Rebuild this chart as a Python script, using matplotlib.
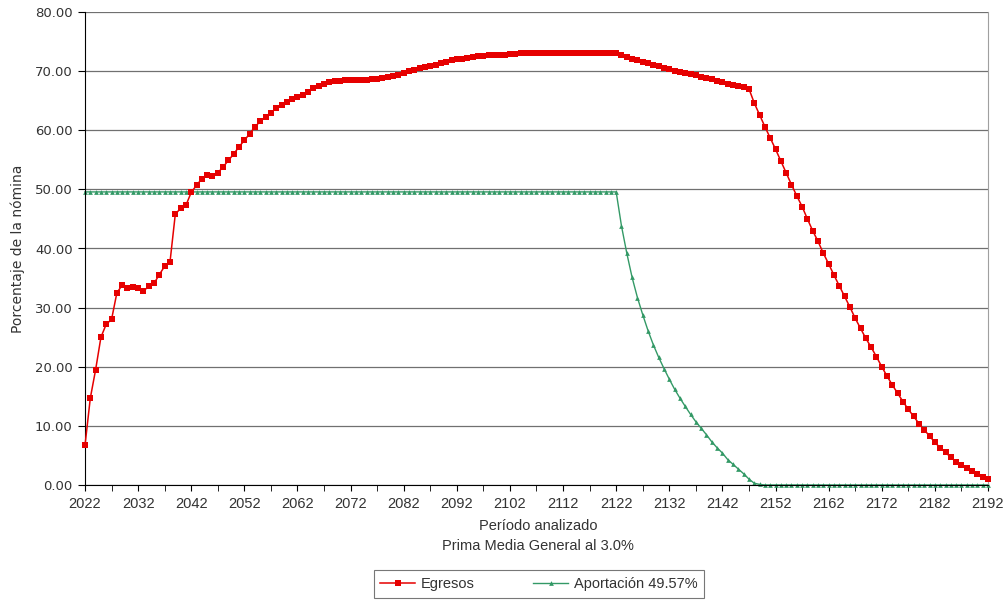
import matplotlib
matplotlib.use("Agg")
import matplotlib.pyplot as plt
from matplotlib.ticker import MultipleLocator, FormatStrFormatter

# Años del periodo analizado
anios = list(range(2022, 2193))

# Egresos (% de la nómina), por década
egresos = [
    6.7, 14.7, 19.5, 25.0, 27.2, 28.0, 32.5, 33.8, 33.4, 33.5,   # 2022-2031
    33.3, 32.8, 33.6, 34.1, 35.6, 37.0, 37.7, 45.8, 46.8, 47.3,  # 2032-2041
    49.5, 50.7, 51.8, 52.4, 52.2, 52.8, 53.8, 54.9, 56.0, 57.2,  # 2042-2051
    58.3, 59.4, 60.6, 61.5, 62.3, 63.0, 63.7, 64.2, 64.8, 65.3,  # 2052-2061
    65.7, 66.0, 66.5, 67.1, 67.5, 67.8, 68.1, 68.3, 68.4, 68.5,  # 2062-2071
    68.5, 68.5, 68.5, 68.5, 68.6, 68.7, 68.8, 69.0, 69.2, 69.4,  # 2072-2081
    69.7, 70.0, 70.2, 70.5, 70.7, 70.9, 71.1, 71.4, 71.6, 71.8,  # 2082-2091
    72.0, 72.1, 72.3, 72.4, 72.5, 72.6, 72.7, 72.7, 72.8, 72.8,  # 2092-2101
    72.9, 72.9, 73.0, 73.0, 73.0, 73.0, 73.0, 73.0, 73.0, 73.0,  # 2102-2111
    73.0, 73.0, 73.0, 73.0, 73.0, 73.0, 73.0, 73.0, 73.0, 73.0,  # 2112-2121
    73.0, 72.7, 72.4, 72.1, 71.9, 71.6, 71.3, 71.0, 70.8, 70.5,  # 2122-2131
    70.3, 70.1, 69.9, 69.7, 69.5, 69.3, 69.0, 68.8, 68.6, 68.4,  # 2132-2141
    68.2, 67.9, 67.7, 67.5, 67.3, 67.0, 64.6, 62.6, 60.6, 58.7,  # 2142-2151
    56.8, 54.8, 52.8, 50.8, 48.9, 47.1, 45.0, 43.0, 41.2, 39.2,  # 2152-2161
    37.4, 35.5, 33.7, 31.9, 30.1, 28.2, 26.5, 24.8, 23.3, 21.7,  # 2162-2171
    20.0, 18.4, 16.9, 15.5, 14.1, 12.8, 11.6, 10.4, 9.3, 8.3,    # 2172-2181
    7.2, 6.3, 5.5, 4.7, 3.9, 3.4, 2.8, 2.3, 1.8, 1.4,            # 2182-2191
    1.0,                                                          # 2192
]

# Aportación 49.57% (% de la nómina), por década
aportacion = [
    49.57, 49.57, 49.57, 49.57, 49.57, 49.57, 49.57, 49.57, 49.57, 49.57,  # 2022-2031
    49.57, 49.57, 49.57, 49.57, 49.57, 49.57, 49.57, 49.57, 49.57, 49.57,  # 2032-2041
    49.57, 49.57, 49.57, 49.57, 49.57, 49.57, 49.57, 49.57, 49.57, 49.57,  # 2042-2051
    49.57, 49.57, 49.57, 49.57, 49.57, 49.57, 49.57, 49.57, 49.57, 49.57,  # 2052-2061
    49.57, 49.57, 49.57, 49.57, 49.57, 49.57, 49.57, 49.57, 49.57, 49.57,  # 2062-2071
    49.57, 49.57, 49.57, 49.57, 49.57, 49.57, 49.57, 49.57, 49.57, 49.57,  # 2072-2081
    49.57, 49.57, 49.57, 49.57, 49.57, 49.57, 49.57, 49.57, 49.57, 49.57,  # 2082-2091
    49.57, 49.57, 49.57, 49.57, 49.57, 49.57, 49.57, 49.57, 49.57, 49.57,  # 2092-2101
    49.57, 49.57, 49.57, 49.57, 49.57, 49.57, 49.57, 49.57, 49.57, 49.57,  # 2102-2111
    49.57, 49.57, 49.57, 49.57, 49.57, 49.57, 49.57, 49.57, 49.57, 49.57,  # 2112-2121
    49.57, 43.8, 39.2, 35.1, 31.7, 28.8, 26.1, 23.7, 21.6, 19.7,           # 2122-2131
    17.9, 16.2, 14.7, 13.3, 11.95, 10.7, 9.6, 8.5, 7.3, 6.3,               # 2132-2141
    5.4, 4.3, 3.5, 2.7, 1.9, 1.0, 0.3, 0.1, 0.0, 0.0,                      # 2142-2151
    0.0, 0.0, 0.0, 0.0, 0.0, 0.0, 0.0, 0.0, 0.0, 0.0,                      # 2152-2161
    0.0, 0.0, 0.0, 0.0, 0.0, 0.0, 0.0, 0.0, 0.0, 0.0,                      # 2162-2171
    0.0, 0.0, 0.0, 0.0, 0.0, 0.0, 0.0, 0.0, 0.0, 0.0,                      # 2172-2181
    0.0, 0.0, 0.0, 0.0, 0.0, 0.0, 0.0, 0.0, 0.0, 0.0,                      # 2182-2191
    0.0,                                                                   # 2192
]

etiquetas_x = list(range(2022, 2193, 10))

rojo = "#e60000"
verde = "#339966"
fuente = "Liberation Sans"
gris_texto = "#333333"

fig = plt.figure(figsize=(10.08, 6.02), dpi=100)
ax = fig.add_axes([85 / 1008, 1 - 485 / 602, 903 / 1008, 473 / 602])

ax.plot(anios, egresos, color=rojo, linewidth=1.1, marker="s", markersize=4.2,
        markeredgewidth=0, label="Egresos", zorder=3, clip_on=False)
ax.plot(anios, aportacion, color=verde, linewidth=1.0, marker="^", markersize=3.4,
        markeredgewidth=0, label="Aportación 49.57%", zorder=2, clip_on=False)

ax.set_xlim(2022, 2192)
ax.set_ylim(0, 80)
ax.yaxis.set_major_locator(MultipleLocator(10))
ax.yaxis.set_major_formatter(FormatStrFormatter("%.2f"))
ax.set_xticks(etiquetas_x)
ax.set_xticks(range(2022, 2193, 5), minor=True)
ax.grid(axis="y", color="#707070", linewidth=0.9)
ax.set_axisbelow(True)

ax.spines["top"].set_visible(False)
ax.spines["right"].set_color("#a0a0a0")
ax.spines["left"].set_color("black")
ax.spines["bottom"].set_color("black")

ax.tick_params(axis="y", length=5, color="black", labelsize=9.5, labelcolor=gris_texto, pad=4)
ax.tick_params(axis="x", which="both", length=4, color="black", pad=5)
ax.tick_params(axis="x", labelsize=10.5, labelcolor=gris_texto)
for t in ax.get_xticklabels():
    t.set_family(fuente)

ax.set_ylabel("Porcentaje de la nómina", fontsize=10, color=gris_texto, labelpad=7)

fig.text(0.5337, 1 - 526 / 602, "Período analizado", ha="center", va="center",
         fontsize=10.5, family=fuente, color=gris_texto)
fig.text(0.5337, 1 - 546 / 602, "Prima Media General al 3.0%", ha="center", va="center",
         fontsize=10.5, family=fuente, color=gris_texto)

ley = fig.legend(loc="center", bbox_to_anchor=(539 / 1008, 1 - 584 / 602), ncol=2,
                 frameon=True, fancybox=False, edgecolor="#555555", handlelength=2.4,
                 handletextpad=0.4, columnspacing=4.0, borderpad=0.45,
                 borderaxespad=0, prop={"family": fuente, "size": 10.5})
ley.get_frame().set_linewidth(0.8)
for t in ley.get_texts():
    t.set_color(gris_texto)

fig.savefig("out.png", dpi=100)
